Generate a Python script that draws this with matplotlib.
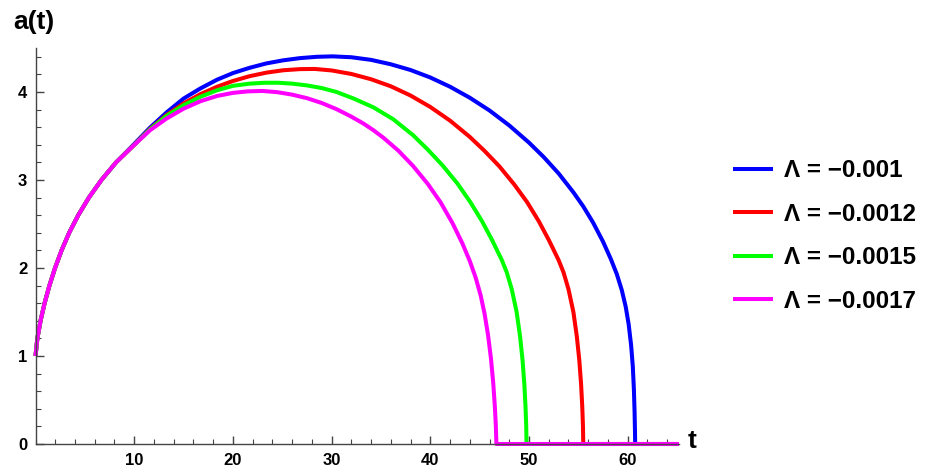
import matplotlib
matplotlib.use("Agg")
import matplotlib.pyplot as plt
from matplotlib.ticker import MultipleLocator

plt.rcParams["font.family"] = ["Liberation Sans", "DejaVu Sans"]
plt.rcParams["font.weight"] = "bold"

# values; the four curves coincide during the early rise
t_rise = [0, 0.19, 0.51, 0.92, 1.41, 1.98, 2.64, 3.41, 4.33, 5.41, 6.68, 8.16]
a_rise = [1.0, 1.2, 1.4, 1.6, 1.8, 2.0, 2.2, 2.4, 2.6, 2.8, 3.0, 3.2]

t_blue = t_rise + [9.92, 11.6, 13.3, 15.0, 16.7, 18.4, 20.0, 21.7, 23.4, 25.1, 26.8, 28.5,
                   30.1, 32.0, 34.0, 36.0, 38.0, 40.0, 42.0, 44.0, 46.0, 48.0, 50.0, 51.5,
                   53.0, 54.5, 55.5, 56.5, 57.5, 58.3, 58.9, 59.4, 59.8, 60.1, 60.35, 60.52,
                   60.63, 60.7, 60.74, 60.76, 65.2]
a_blue = a_rise + [3.40, 3.595, 3.77, 3.925, 4.04, 4.14, 4.215, 4.275, 4.325, 4.36, 4.385, 4.40,
                   4.405, 4.395, 4.365, 4.315, 4.25, 4.165, 4.06, 3.935, 3.79, 3.62, 3.425, 3.26,
                   3.075, 2.86, 2.70, 2.515, 2.30, 2.10, 1.93, 1.75, 1.56, 1.36, 1.12, 0.88,
                   0.62, 0.36, 0.14, 0.0, 0.0]

t_red = t_rise + [9.92, 11.6, 13.3, 15.0, 16.7, 18.4, 20.0, 21.7, 23.4, 25.1, 26.8, 28.3,
                  30.0, 32.0, 34.0, 36.0, 38.0, 40.0, 42.0, 44.0, 45.5, 47.0, 48.5, 49.8,
                  51.0, 52.0, 53.0, 53.5, 54.0, 54.5, 54.85, 55.1, 55.28, 55.4, 55.47, 55.5,
                  65.2]
a_red = a_rise + [3.39, 3.58, 3.74, 3.87, 3.975, 4.06, 4.125, 4.18, 4.22, 4.247, 4.26, 4.262,
                  4.245, 4.205, 4.145, 4.065, 3.96, 3.83, 3.675, 3.49, 3.33, 3.155, 2.95, 2.75,
                  2.53, 2.32, 2.09, 1.95, 1.76, 1.50, 1.22, 0.95, 0.68, 0.42, 0.20, 0.0,
                  0.0]

t_green = t_rise + [9.92, 11.6, 13.3, 15.0, 16.7, 18.4, 20.0, 21.7, 23.2, 24.6, 26.0, 27.5,
                    29.0, 30.5, 32.25, 34.25, 36.25, 38.25, 39.75, 41.25, 42.75, 44.05, 45.25,
                    46.25, 47.25, 47.75, 48.25, 48.75, 49.1, 49.35, 49.53, 49.65, 49.72, 49.75,
                    65.2]
a_green = a_rise + [3.39, 3.575, 3.73, 3.85, 3.945, 4.02, 4.07, 4.095, 4.105, 4.105, 4.095, 4.075,
                    4.045, 4.00, 3.925, 3.825, 3.69, 3.51, 3.345, 3.165, 2.96, 2.75, 2.53,
                    2.32, 2.09, 1.95, 1.76, 1.50, 1.22, 0.95, 0.68, 0.42, 0.20, 0.0,
                    0.0]

t_magenta = t_rise + [9.92, 11.6, 13.3, 15.0, 16.7, 18.4, 20.0, 21.5, 23.0, 24.5, 26.0, 27.5,
                      29.0, 30.5, 32.0, 33.25, 34.25, 35.25, 36.75, 38.25, 39.75, 41.05, 42.25,
                      43.25, 44.0, 44.6, 45.1, 45.5, 45.85, 46.15, 46.38, 46.54, 46.64, 46.7,
                      65.2]
a_magenta = a_rise + [3.39, 3.565, 3.70, 3.81, 3.895, 3.955, 3.99, 4.007, 4.012, 3.998, 3.97, 3.93,
                      3.875, 3.805, 3.72, 3.64, 3.565, 3.48, 3.335, 3.16, 2.955, 2.745, 2.51,
                      2.28, 2.08, 1.89, 1.69, 1.48, 1.24, 0.97, 0.69, 0.43, 0.21, 0.0,
                      0.0]

labels = ["Λ = \u22120.001", "Λ = \u22120.0012", "Λ = \u22120.0015", "Λ = \u22120.0017"]
colors = ["#0000ff", "#ff0000", "#00ff00", "#ff00ff"]
series = [(t_blue, a_blue), (t_red, a_red), (t_green, a_green), (t_magenta, a_magenta)]

W, H = 925, 473
fig = plt.figure(figsize=(W / 100, H / 100), dpi=100)
ax = fig.add_axes([35.5 / W, 29 / H, (679 - 35.5) / W, (444 - 48) / H])

for (t, a), c, lab in zip(series, colors, labels):
    ax.plot(t, a, color=c, lw=2.9, label=lab, clip_on=False,
            solid_joinstyle="round", solid_capstyle="butt")

ax.set_xlim(0, 65.2)
ax.set_ylim(0, 4.5)
ax.spines["top"].set_visible(False)
ax.spines["right"].set_visible(False)
for s in ("left", "bottom"):
    ax.spines[s].set_linewidth(1.0)
    ax.spines[s].set_color("#444444")

ax.xaxis.set_major_locator(MultipleLocator(10))
ax.xaxis.set_minor_locator(MultipleLocator(2))
ax.yaxis.set_major_locator(MultipleLocator(1))
ax.yaxis.set_minor_locator(MultipleLocator(0.2))
ax.set_xticks([10, 20, 30, 40, 50, 60])
ax.tick_params(which="major", direction="in", length=6, width=1.0, color="#444444",
               labelsize=12)
ax.tick_params(which="minor", direction="in", length=3.3, width=0.8, color="#444444")
ax.tick_params(axis="x", which="major", pad=6.5)
ax.tick_params(axis="y", which="major", pad=6)
for lbl in ax.get_xticklabels() + ax.get_yticklabels():
    lbl.set_fontweight("bold")

fig.text(34 / W, 1 - 22 / H, "a(t)", fontsize=19, fontweight="bold", ha="center", va="center")
fig.text(692 / W, 1 - 441 / H, "t", fontsize=19, fontweight="bold", ha="center", va="center")

fig.legend(loc="center left", bbox_to_anchor=(733 / W, 1 - 236 / H), frameon=False,
           handlelength=1.65, handletextpad=0.45, labelspacing=0.85,
           borderpad=0, borderaxespad=0, prop={"weight": "bold", "size": 17.5})

fig.savefig("out.png", dpi=100)
